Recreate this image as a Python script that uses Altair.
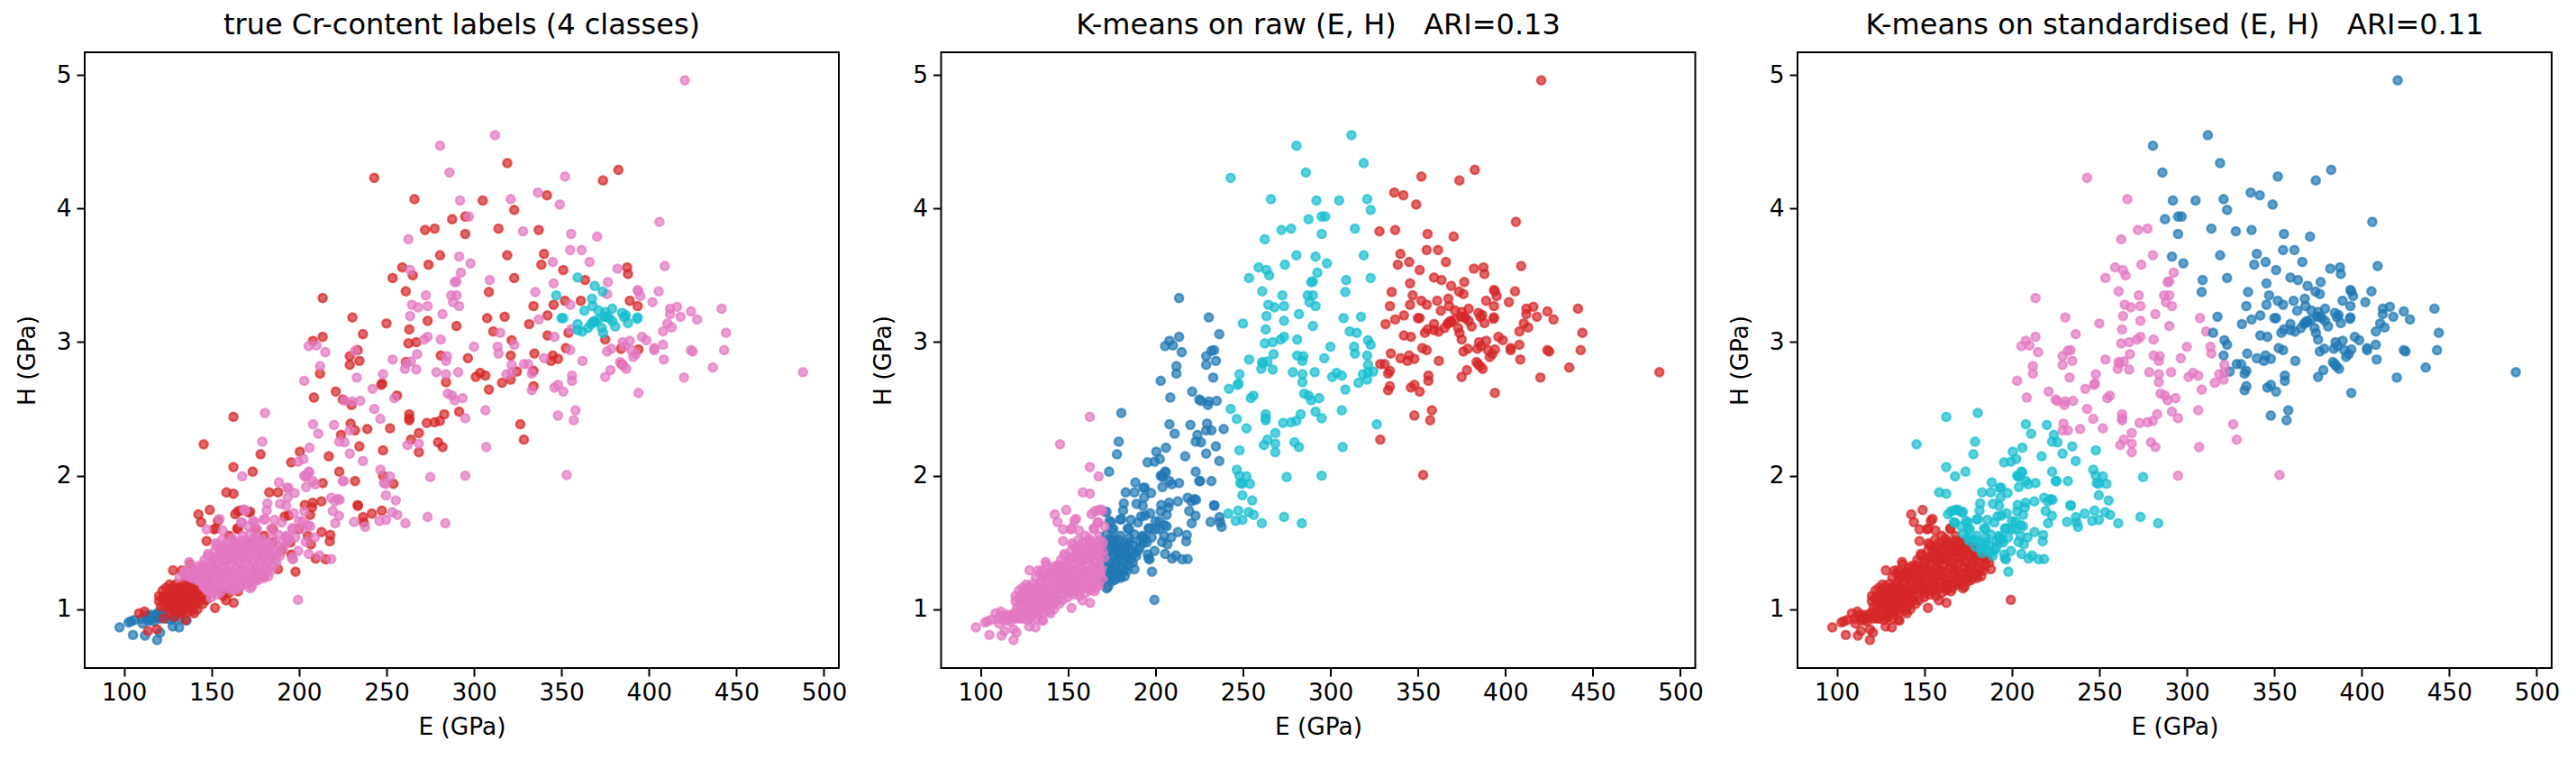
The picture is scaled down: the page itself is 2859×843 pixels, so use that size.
import altair as alt
import pandas as pd

BLUE = [(97.4,.864),(102.6,.902),(104,.91),(106,.92),(105.1,.808),(112,.803),(110.6,.893),(118.9,.77),(120.6,.826),(127.8,.871),(131.4,.864),(135.7,.916),
(113.7,.932),(116.3,.947),(118.9,.943),(117.1,.909),(115.1,.96),(119.7,.977),(122.3,.955),(124,.93),(120.5,.93),(126,.96),(129,.94),(132,.93),(110,.93),(112.5,.955),(116,.925),(122,.97),(127,.92),(130,.965),(118,.96),(114,.915)]

RED = [
(319,4.34),(382.5,4.29),(243,4.23),(373.7,4.21),(341.7,4.10),(266,4.07),(305,4.06),(323,3.99),(295,3.94),(287.5,3.92),(314,3.85),(277.5,3.85),(272,3.84),(337,3.84),(295,3.81),
(280.6,3.65),(319,3.65),(340,3.66),(338.5,3.58),(274,3.58),(259,3.56),(351,3.54),(387.5,3.56),(388,3.51),(265,3.50),(323,3.48),(253.5,3.48),(363.5,3.465),(261,3.38),(308.5,3.375),(213.5,3.33),
(352,3.31),(361,3.31),(389,3.31),(345.5,3.28),(334,3.27),(393.5,3.27),(230.5,3.185),(307.5,3.18),(317.5,3.19),(342,3.20),(273.5,3.16),(331.5,3.135),(250,3.14),(290,3.12),(263,3.095),(311,3.08),(236.5,3.06),(354,3.07),
(213.5,3.04),(342,3.05),(208,3.01),(262.5,2.99),(267,3.00),(321.5,3.015),(384,2.95),(352.5,2.955),(394,2.945),(233.5,2.94),(229,2.895),(321,2.90),(334.5,2.915),(375,3.02),(345,2.90),(348,2.875),(344,2.86),(281,2.90),(296.5,2.88),(261,2.85),(234.5,2.86),(229,2.83),(384.5,2.835),
(212,2.765),(303.5,2.77),(301,2.74),(306.5,2.75),(324.5,2.78),(334,2.785),(321,2.72),(284,2.70),(316,2.695),(334,2.67),(247,2.68),(247.5,2.69),(308.5,2.645),(221,2.63),(208.5,2.585),(256,2.60),(225,2.57),(230,2.53),
(291.5,2.48),(283,2.46),(263,2.46),(263,2.43),(263,2.415),(162.5,2.44),(273,2.395),(277.5,2.40),(280.5,2.41),(326.5,2.385),(229.5,2.39),(252,2.355),(239,2.35),(232,2.34),(268.5,2.32),(224,2.305),(264,2.27),(328.5,2.27),(145.5,2.235),(279.5,2.25),(282,2.215),(234.5,2.22),(248,2.19),(268.5,2.175),(200.5,2.18),(178,2.16),(217,2.145),(195.5,2.10),(162.5,2.065),(173.5,2.03),(223,2.03),(248,2.0),(232,1.96),(254,1.94),(213.5,1.945),
(158.5,1.875),(162.5,1.865),(183,1.875),(188,1.875),(233.5,1.78),(233.7,1.775),(203.3,1.781),(207.8,1.797),(207.4,1.763),(212.8,1.808),(206.4,1.707),(236.6,1.69),(241.6,1.716),(247.3,1.738),(237,1.65),
(149,1.743),(144,1.653),(142.5,1.71),(153.7,1.662),(163.5,1.711),(165.2,1.734),(171.2,1.725),(164.7,1.606),(151.5,1.599),(147.2,1.511),(191.8,1.695),(194,1.702),(212.9,1.578),(217.9,1.556),(217.6,1.509),(206.8,1.486),(209.5,1.38),(215.3,1.374),(195.6,1.41),(198,1.282),(172,1.73),(167,1.741),(152.3,1.606),
(108.6,.97),(111.7,.983),(113.7,.837),(118.9,.85),(122.6,.932),(128.6,.943),(135.2,.92),(133.8,.988),(140,.97),(128,1.291),(152,1.01),(162.6,1.048),(158.3,1.067),
(126,.975),(129,.985),(132,.97),(136,.98),(139,.99),(142,1.0),(121,1.02),(125,1.015),(129,1.03),(133,1.02),(137,1.025),(141,1.03),(145,1.04),(123,1.03),(127,1.01),(131,1.0),(135,1.005),(139,1.015),
(120,1.06),(124,1.055),(128,1.065),(132,1.05),(136,1.07),(140,1.055),(144,1.065),(147,1.07),(122,1.075),(126,1.045),(130,1.08),(134,1.04),(138,1.045),(142,1.08),
(120,1.10),(124,1.105),(128,1.095),(132,1.11),(136,1.10),(140,1.105),(144,1.095),(122,1.09),(126,1.12),(130,1.125),(134,1.09),(138,1.125),(142,1.12),
(122,1.14),(126,1.145),(130,1.15),(134,1.14),(138,1.15),(142,1.145),(124,1.16),(128,1.17),(132,1.165),(136,1.17),(140,1.165),(126,1.185),(130,1.19),(134,1.19),(138,1.185),
(133,1.29),(137.7,1.336),(148,1.235),(168.6,1.471),(175.5,1.235),(156.6,1.10),(160,1.123),(165.2,1.134),(150,1.15),(155,1.14),(146,1.2),(152,1.3),(158,1.39),(165,1.42),(172,1.5),(178,1.45),(185,1.5),(170,1.2),(175,1.3),(183,1.4),(190,1.44),(165,1.6),(175,1.6),(180,1.55),(200,1.6),(195,1.5),(205,1.55),(160,1.55),(155,1.45),(145,1.3),(140,1.26),(135,1.22),(185,1.6),(188,1.3),(180,1.25),
(128,1.03),(132,1.07),(136,1.12),(127,1.13),(133,1.15),(124,1.08),(141,1.08),(130,1.04),(137,1.05),(143,1.13)]

PINK = [
(420.5,4.96),(312,4.55),(280.6,4.47),(286,4.27),(352,4.24),(336.5,4.12),(349,4.03),(292,4.06),(321,4.07),(297,3.94),(406,3.90),(328,3.83),(355.5,3.81),(370.4,3.79),(262.5,3.77),(291.5,3.64),(355,3.69),(361.5,3.69),(366,3.60),(345,3.60),(298,3.59),(263.5,3.54),(409,3.57),(382,3.55),(292.5,3.52),
(376.5,3.45),(309,3.465),(289,3.45),(290,3.455),(345.5,3.44),(335,3.375),(393.5,3.39),(394,3.38),(405.5,3.38),(395,3.345),(272.5,3.35),(287,3.35),(290,3.35),(376,3.36),(288,3.30),(402,3.30),(264.5,3.28),(273.5,3.27),(268,3.26),(291.5,3.27),(355,3.28),
(412,3.25),(416,3.265),(441.5,3.25),(412,3.21),(418,3.19),(424,3.23),(427.5,3.17),(282,3.21),(263.5,3.195),(337,3.17),(410.5,3.14),(413,3.11),(315,3.07),(408,3.08),(444,3.07),(273.5,3.04),(271.5,3.02),(281,3.02),(346,3.04),(355.5,3.095),(396,3.04),(398.5,3.015),(205.5,2.97),(210,2.975),(323,2.98),(313.5,2.965),(300,2.965),
(385,3.0),(389,3.01),(386,2.97),(408,2.98),(403,2.955),(403,2.94),(355,2.94),(390,2.94),(376,2.93),(378.5,2.95),(443,2.94),(424,2.94),(425,2.93),(215,2.925),(232,2.935),(314,2.915),(267.5,2.91),(392.5,2.91),(391,2.89),(340,2.88),(253.5,2.87),(408.5,2.87),(284.5,2.895),(284,2.86),(212,2.82),(264,2.855),(261.5,2.84),(362,2.86),(321.5,2.83),(328.5,2.835),(331,2.835),(260.5,2.80),(267,2.795),
(383.5,2.85),(385.5,2.82),(387,2.80),(378,2.79),(375,2.74),(420,2.735),(436.5,2.81),(488,2.775),(203,2.71),(278.5,2.775),(291,2.775),(284,2.76),(321.5,2.775),(318.5,2.76),(333,2.765),(248,2.76),(233,2.735),(356,2.75),(356,2.71),(242,2.65),(346,2.66),(348,2.68),(333,2.64),(351,2.63),(394,2.62),(285,2.615),(287.5,2.60),(293.5,2.58),(289,2.565),(254.5,2.58),(226,2.56),(235,2.56),(230.5,2.555),(243,2.50),(306.5,2.49),(358,2.49),(348,2.45),(295,2.43),(180.5,2.47),(246.5,2.425),(357,2.415),
(220,2.38),(208,2.385),(229,2.34),(211,2.315),(223,2.255),(226,2.25),(179,2.255),(262,2.23),(268.5,2.24),(307,2.215),(206,2.21),(229,2.165),(236.5,2.11),(199.5,2.105),(202.5,2.125),(205.5,2.03),(246.5,2.045),(167.5,1.995),(275,1.99),(295,2.0),(353,2.005),(203,2.0),(204,1.99),(252,1.995),(225,1.96),(188.5,1.95),(248.5,1.945),(208,1.96),(204,1.915),(193,1.91),(197.5,1.87),
(193.9,1.91),(203.8,2.0),(205.9,2.026),(209.3,1.936),(225.6,1.96),(249.7,1.94),(249.7,1.853),(255.3,1.815),(181.9,1.792),(181.5,1.74),(189.2,1.79),(192.7,1.774),(193.5,1.837),(218.4,1.835),(222.2,1.824),(223.2,1.82),(220.5,1.808),(219.3,1.736),(222.9,1.70),(220.7,1.644),(231.5,1.655),(237.8,1.617),(253.3,1.727),(256.2,1.707),(245.9,1.662),(249.7,1.67),(260.8,1.644),(273.5,1.691),(283.6,1.644),
(154.6,1.677),(168.6,1.747),(167.4,1.65),(174.7,1.65),(179.8,1.673),(156.3,1.59),(147.2,1.599),(197,1.718),(203,1.734),(202.1,1.657),(206.4,1.621),(196.5,1.606),(209,1.538),(199.5,1.437),(205.5,1.414),(211.6,1.403),(218.4,1.376),(196.6,1.374),(194.4,1.527),(197.8,1.538),(203.8,1.504),(192.7,1.538),(199.4,1.07),(202,1.6),(205,1.63),(200,1.66),
(137.2,1.354),(131.7,1.24),(134.3,1.269),(142.9,1.325),(148,1.415),(152.3,1.494),(158.3,1.494),(162.6,1.51),(167.8,1.55),(172,1.56),(176.4,1.528),(184.1,1.606),(166.9,1.651),(169.5,1.741),(173.8,1.663),(180.6,1.674),(196.1,1.606),(192.7,1.55),(196.1,1.381),(182.4,1.246),(172.1,1.156),(162.6,1.145),(158.3,1.156),(149.8,1.089),(150.6,1.123),(145.5,1.168),(176,1.6),(171,1.62),(186,1.67),(188,1.56),(190,1.65),
(153,1.11),(148,1.14),(155,1.13),(163,1.15),(146,1.17),(150,1.16),(154,1.175),(162,1.17),(166,1.16),
(143,1.21),(147,1.19),(151,1.205),(155,1.195),(159,1.21),(163,1.19),(167,1.205),(171,1.19),(175,1.21),
(136,1.25),(140,1.23),(144,1.245),(148,1.225),(152,1.25),(156,1.235),(160,1.245),(164,1.225),(168,1.24),(172,1.23),(176,1.25),(180,1.235),
(135,1.29),(139,1.27),(143,1.285),(147,1.275),(151,1.295),(155,1.27),(159,1.285),(163,1.275),(167,1.29),(171,1.27),(175,1.285),(179,1.27),(182,1.29),
(141,1.31),(145,1.33),(149,1.315),(153,1.335),(157,1.31),(161,1.33),(165,1.315),(169,1.335),(173,1.31),(177,1.325),(181,1.31),(185,1.33),
(146,1.37),(150,1.35),(154,1.375),(158,1.355),(162,1.37),(166,1.35),(170,1.375),(174,1.355),(178,1.37),(182,1.35),(186,1.375),
(148,1.40),(152,1.39),(156,1.415),(160,1.395),(164,1.41),(168,1.39),(172,1.415),(176,1.395),(180,1.41),(184,1.39),(188,1.42),
(152,1.44),(156,1.455),(161,1.435),(165,1.45),(169,1.44),(173,1.46),(178,1.435),(182,1.45),(186,1.44),(191,1.46),
(153,1.48),(158,1.47),(163,1.49),(168,1.475),(172,1.485),(177,1.47),(182,1.49),(187,1.48),(193,1.50),
(156,1.52),(162,1.53),(168,1.515),(174,1.53),(179,1.52),(185,1.535),(191,1.51),
(146,1.23),(150,1.27),(154,1.22),(158,1.26),(162,1.22),(166,1.27),(170,1.23),(174,1.27),(149,1.30),(153,1.29),(157,1.34),(161,1.29),(165,1.35),(169,1.30),(173,1.36),(177,1.30),(181,1.36),
(151,1.37),(155,1.40),(159,1.37),(163,1.40),(167,1.43),(171,1.39),(175,1.43),(179,1.39),(183,1.42),(155,1.44),(159,1.45),(163,1.46),(167,1.46),(171,1.45),(175,1.46),(179,1.47),(183,1.47),
(140,1.28),(144,1.30),(138,1.24),(142,1.22),(146,1.29),(156,1.19),(160,1.17),(152,1.18),(147,1.15),(168,1.18),(173,1.17),(177,1.22),(184,1.29),(187,1.35),(189,1.40),(176,1.51),(170,1.5),(164,1.5)]

CYAN = [(359.2,3.484),(369,3.421),(373.5,3.379),(367.4,3.325),(347,3.35),(367.8,3.27),(363.1,3.235),(371.2,3.237),(379,3.25),(375,3.226),(376.4,3.19),(384.6,3.219),(386.7,3.203),(385.8,3.187),(393.5,3.185),(393.2,3.174),(388,3.142),(380.7,3.118),(379,3.158),(368.6,3.158),(366.9,3.136),(365.2,3.106),(367.8,3.147),(373,3.106),(373.8,3.068),(361.8,3.079),(359.2,3.09),(359.2,3.136),(377.2,3.18),(374.6,3.19),(350,3.18),(351,3.18),(369,3.15),(371,3.17)]

CLASS_COLORS = ["#1f77b4", "#d62728", "#e377c2", "#17becf"]
RAW_EDGES = [172, 240, 327]
NB = "\u00a0\u00a0\u00a0"
TITLES = ["true Cr-content labels (4 classes)", "K-means on raw (E, H)" + NB + "ARI=0.13", "K-means on standardised (E, H)" + NB + "ARI=0.11"]

def raw_label(e, h):
    if e < RAW_EDGES[0]:
        return 2
    if e < RAW_EDGES[1]:
        return 0
    if e < RAW_EDGES[2]:
        return 3
    return 1

def std_label(e, h):
    if h < 1.5 - 0.0112 * (e - 175):
        return 1
    if h < 2.28 - 0.0059 * (e - 237.5):
        return 3
    if h < 2.55 - 0.025 * (e - 333):
        return 2
    return 0

rows = []
for cls, pts in enumerate([BLUE, RED, PINK, CYAN]):
    for e, h in pts:
        rows.append({"E": e, "H": h, "true": cls, "raw": raw_label(e, h), "std": std_label(e, h)})
df = pd.DataFrame(rows)

def panel(field, title):
    return (
        alt.Chart(df)
        .mark_circle(size=85, fillOpacity=0.7, strokeOpacity=0.7, strokeWidth=2.5)
        .encode(
            x=alt.X("E:Q", title="E (GPa)", scale=alt.Scale(domain=[77.5, 508.5], nice=False, zero=False),
                    axis=alt.Axis(values=list(range(100, 501, 50)), format="d", labelPadding=5, titlePadding=12)),
            y=alt.Y("H:Q", title="H (GPa)", scale=alt.Scale(domain=[0.56, 5.17], nice=False, zero=False),
                    axis=alt.Axis(values=[1, 2, 3, 4, 5], format="d", labelPadding=6, titlePadding=18)),
            fill=alt.Fill(f"{field}:N", scale=alt.Scale(domain=[0, 1, 2, 3], range=CLASS_COLORS), legend=None),
            stroke=alt.Stroke(f"{field}:N", scale=alt.Scale(domain=[0, 1, 2, 3], range=CLASS_COLORS), legend=None),
        )
        .properties(width=837, height=683, title=alt.TitleParams(title, fontSize=32, fontWeight="normal", font="DejaVu Sans", color="black", offset=13))
    )

chart = (
    alt.hconcat(panel("true", TITLES[0]), panel("raw", TITLES[1]), panel("std", TITLES[2]), spacing=113.5, bounds="flush")
    .configure_view(stroke="black", strokeWidth=2)
    .configure_axis(grid=False, domain=False, labelFont="DejaVu Sans", titleFont="DejaVu Sans", labelFontSize=26.4, titleFontSize=26.4,
                    titleFontWeight="normal", labelColor="black", titleColor="black", tickColor="black", tickSize=9, tickWidth=2)
    .properties(background="white", padding={"left": 8, "top": 3, "right": 0, "bottom": 0})
)
chart.save("out.html", embed_options={"renderer": "svg", "actions": False})
